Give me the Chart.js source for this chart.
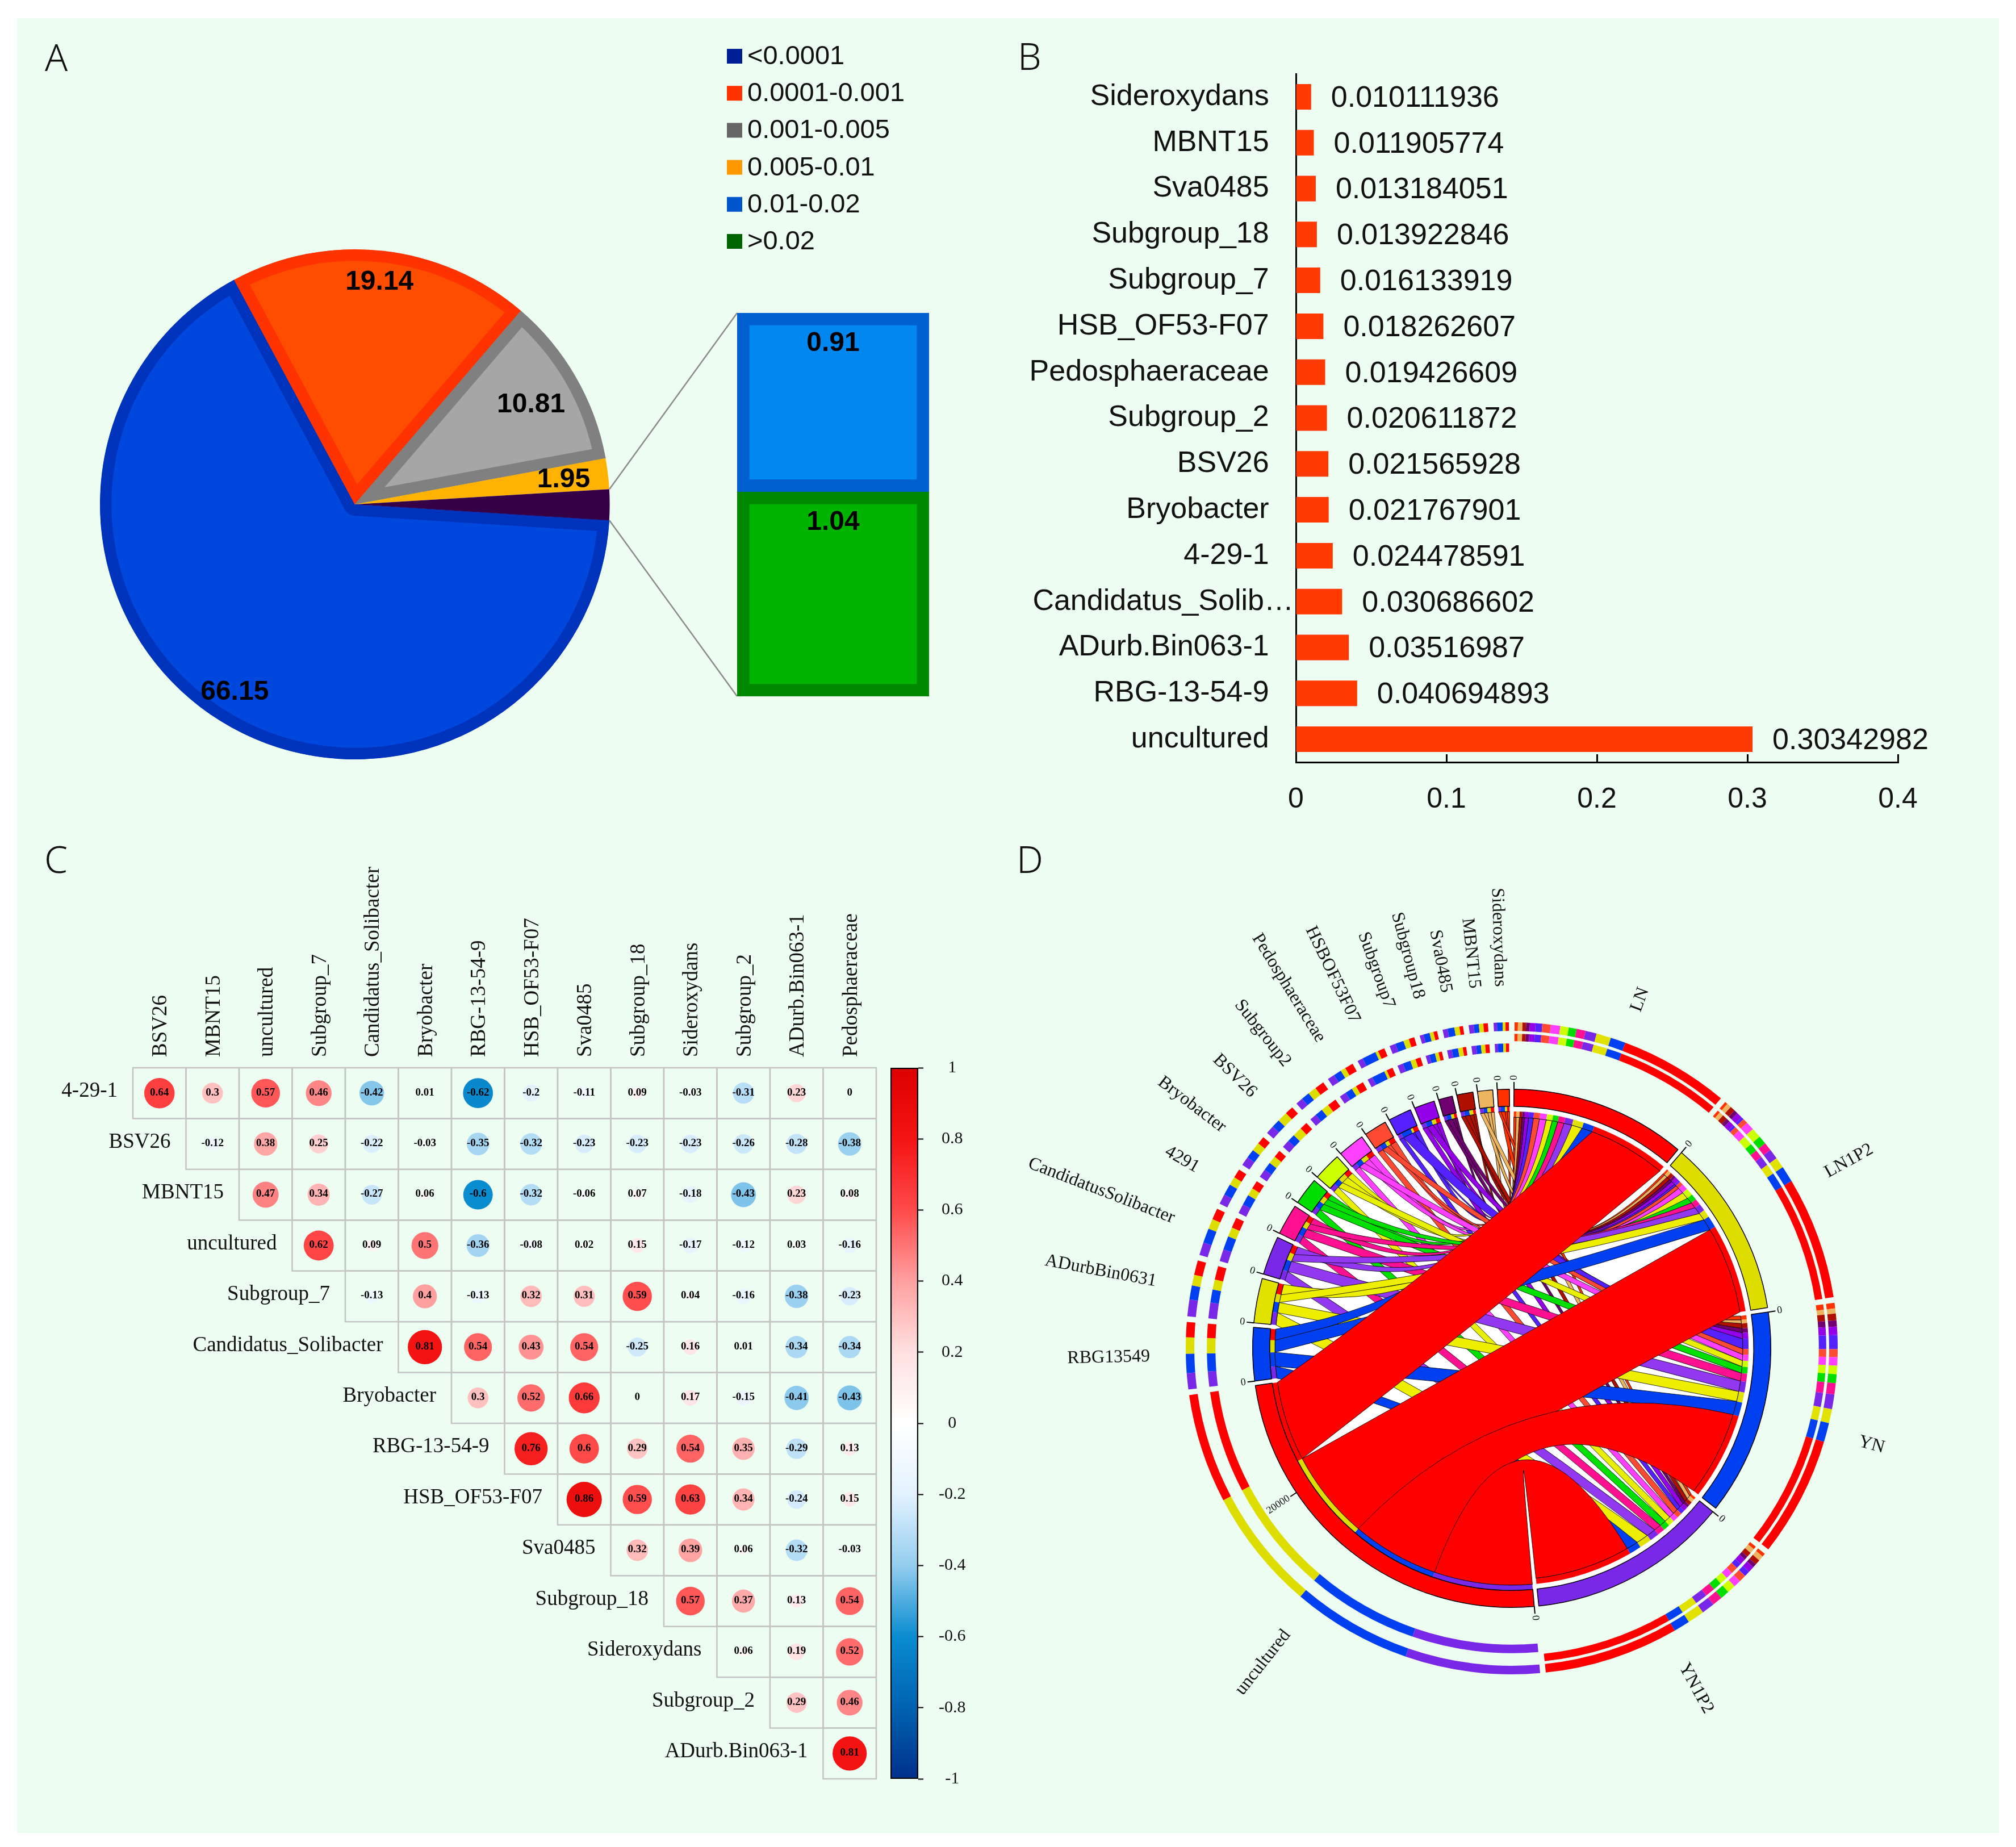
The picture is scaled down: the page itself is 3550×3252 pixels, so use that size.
<!DOCTYPE html>
<html><head><meta charset="utf-8">
<script src="https://cdn.jsdelivr.net/npm/chart.js@4"></script>
<style>
html,body{margin:0;padding:0;background:#fff;width:3550px;height:3252px;overflow:hidden}
#bg{position:absolute;left:30px;top:32px;width:3490px;height:3195px;background:#EEFDF2}
canvas{position:absolute}
.L{position:absolute;font:300 66px "Noto Sans",sans-serif;color:#111;line-height:66px}
</style></head><body>
<div id="bg"></div>
<canvas id="pie" width="1700" height="1400" style="left:0;top:0"></canvas>
<canvas id="stack" width="338" height="675" style="left:1298px;top:551px"></canvas>
<canvas id="bars" width="1700" height="1340" style="left:1780px;top:100px"></canvas>
<canvas id="corr" width="1544" height="1720" style="left:30px;top:1480px"></canvas>
<canvas id="cbar" width="170" height="1320" style="left:1560px;top:1850px"></canvas>
<canvas id="chord" width="1740" height="1740" style="left:1792px;top:1504px"></canvas>
<div class="L" style="left:79px;top:66px">A</div>
<div class="L" style="left:1792px;top:64px">B</div>
<div class="L" style="left:78px;top:1478px">C</div>
<div class="L" style="left:1790px;top:1478px">D</div>
<script>
/* ---------- data ---------- */
const pieLabels = ['0.0001 group','0.0001-0.001','0.001-0.005','0.005-0.01','other'];
const pieValues = [66.15, 19.14, 10.81, 1.95, 1.95];
const pieTexts  = ['66.15','19.14','10.81','1.95',''];
const stackValues = [1.04, 0.91];
const legendLabels = ['<0.0001','0.0001-0.001','0.001-0.005','0.005-0.01','0.01-0.02','>0.02'];
const legendColors = ['#001E96','#FF3300','#666666','#FF9900','#0055CC','#006400'];

const genusLabels = ['Sideroxydans','MBNT15','Sva0485','Subgroup_18','Subgroup_7','HSB_OF53-F07','Pedosphaeraceae','Subgroup_2','BSV26','Bryobacter','4-29-1','Candidatus_Solib…','ADurb.Bin063-1','RBG-13-54-9','uncultured'];
const genusValues = [0.010111936,0.011905774,0.013184051,0.013922846,0.016133919,0.018262607,0.019426609,0.020611872,0.021565928,0.021767901,0.024478591,0.030686602,0.03516987,0.040694893,0.30342982];

const corrCols = ['BSV26','MBNT15','uncultured','Subgroup_7','Candidatus_Solibacter','Bryobacter','RBG-13-54-9','HSB_OF53-F07','Sva0485','Subgroup_18','Sideroxydans','Subgroup_2','ADurb.Bin063-1','Pedosphaeraceae'];
const corrRows = ['4-29-1','BSV26','MBNT15','uncultured','Subgroup_7','Candidatus_Solibacter','Bryobacter','RBG-13-54-9','HSB_OF53-F07','Sva0485','Subgroup_18','Sideroxydans','Subgroup_2','ADurb.Bin063-1'];
const corr0  = [0.64,0.3,0.57,0.46,-0.42,0.01,-0.62,-0.2,-0.11,0.09,-0.03,-0.31,0.23,0];
const corr1  = [-0.12,0.38,0.25,-0.22,-0.03,-0.35,-0.32,-0.23,-0.23,-0.23,-0.26,-0.28,-0.38];
const corr2  = [0.47,0.34,-0.27,0.06,-0.6,-0.32,-0.06,0.07,-0.18,-0.43,0.23,0.08];
const corr3  = [0.62,0.09,0.5,-0.36,-0.08,0.02,0.15,-0.17,-0.12,0.03,-0.16];
const corr4  = [-0.13,0.4,-0.13,0.32,0.31,0.59,0.04,-0.16,-0.38,-0.23];
const corr5  = [0.81,0.54,0.43,0.54,-0.25,0.16,0.01,-0.34,-0.34];
const corr6  = [0.3,0.52,0.66,0,0.17,-0.15,-0.41,-0.43];
const corr7  = [0.76,0.6,0.29,0.54,0.35,-0.29,0.13];
const corr8  = [0.86,0.59,0.63,0.34,-0.24,0.15];
const corr9  = [0.32,0.39,0.06,-0.32,-0.03];
const corr10 = [0.57,0.37,0.13,0.54];
const corr11 = [0.06,0.19,0.52];
const corr12 = [0.29,0.46];
const corr13 = [0.81];

const sampleNames = ['LN','LN1P2','YN','YN1P2'];
const taxonNames = ['Sideroxydans','MBNT15','Sva0485','Subgroup18','Subgroup7','HSBOF53F07','Pedosphaeraceae','Subgroup2','BSV26','Bryobacter','4291','CandidatusSolibacter','ADurbBin0631','RBG13549','uncultured'];
const readsLN    = [196,262,213,213,327,392,491,556,491,458,523,654,850,883,6377];
const readsLN1P2 = [164,262,294,229,327,164,294,491,589,491,491,589,621,948,7129];
const readsYN    = [327,294,392,360,491,818,458,491,491,523,654,850,818,1112,6998];
const readsYN1P2 = [196,294,294,229,360,327,425,425,491,523,589,752,981,948,7848];
const sectorGapReads = 327;
const scaleTick = 20000;

/* ---------- styles ---------- */
const SANS='"Liberation Sans",Arial,sans-serif', SERIF='"Liberation Serif","Times New Roman",serif';
Chart.defaults.animation=false;
Chart.defaults.responsive=false;
Chart.defaults.devicePixelRatio=1;
Chart.defaults.plugins.legend.display=false;
Chart.defaults.plugins.tooltip.enabled=false;
Chart.defaults.events=[];
const noPadV=s=>{s.paddingTop=0;s.paddingBottom=0;};
const noPadH=s=>{s.paddingLeft=0;s.paddingRight=0;};

/* ---------- A: pie ---------- */
const pieFill=['#0047DD','#FF4D00','#A6A6A6','#FFB300','#360047'];
const pieEdge=['#0033BB','#FF3300','#808080','#FFB300','#360047'];
const pieEdgeW=[20,20,20,0,0];
const labelPolar=[[393,212.6],[394,6.3],[356,60.6],[370,83.3],[0,0]];
const stackBox={left:1298,top:551,bottom:1226};
new Chart(document.getElementById('pie'),{
  type:'pie',
  data:{labels:pieLabels,datasets:[{data:pieValues,backgroundColor:pieFill,borderColor:pieEdge,borderWidth:pieEdgeW,borderAlign:'inner'}]},
  options:{rotation:93.6,layout:{padding:{left:176,right:1700-1074,top:439,bottom:1400-1337}}},
  plugins:[{id:'pieExtras',afterDraw(c){
    const g=c.ctx,arcs=c.getDatasetMeta(0).data;
    const a0=arcs[0];
    g.save();
    g.fillStyle='#000';g.font='bold 48px '+SANS;g.textAlign='center';g.textBaseline='middle';
    pieTexts.forEach((t,i)=>{ if(!t)return; const [r,d]=labelPolar[i],th=d*Math.PI/180;
      g.fillText(t,a0.x+r*Math.sin(th),a0.y-r*Math.cos(th)); });
    const other=arcs[4];
    g.strokeStyle='#8a8a8a';g.lineWidth=2.5;
    const R=other.outerRadius;
    g.beginPath();g.moveTo(other.x+R*Math.cos(other.startAngle),other.y+R*Math.sin(other.startAngle));g.lineTo(stackBox.left,stackBox.top);g.stroke();
    g.beginPath();g.moveTo(other.x+R*Math.cos(other.endAngle),other.y+R*Math.sin(other.endAngle));g.lineTo(stackBox.left,stackBox.bottom);g.stroke();
    g.font='47px '+SANS;g.textAlign='left';
    legendLabels.forEach((t,i)=>{const y=99+i*65.2;
      g.fillStyle=legendColors[i];g.fillRect(1280,y-13,27,26);
      g.fillStyle='#111';g.fillText(t,1316,y+1);});
    g.restore();
  }}]
});
new Chart(document.getElementById('stack'),{
  type:'bar',
  data:{labels:['other'],datasets:[
    {data:[stackValues[0]],backgroundColor:'#00B400',borderColor:'#008800',borderWidth:22,borderSkipped:false,barPercentage:1,categoryPercentage:1},
    {data:[stackValues[1]],backgroundColor:'#0087F0',borderColor:'#0060D0',borderWidth:22,borderSkipped:false,barPercentage:1,categoryPercentage:1}]},
  options:{scales:{x:{display:false,stacked:true},y:{display:false,stacked:true,min:0,max:1.95}}},
  plugins:[{id:'stackLabels',afterDraw(c){
    const g=c.ctx;g.save();g.fillStyle='#000';g.font='bold 48px '+SANS;g.textAlign='center';g.textBaseline='middle';
    c.data.datasets.forEach((d,i)=>{const b=c.getDatasetMeta(i).data[0];g.fillText(d.data[0].toFixed(2),b.x,b.y+54);});
    g.restore();
  }}]
});

/* ---------- B: bars ---------- */
const truncIdx=genusLabels.findIndex(s=>s.endsWith('…'));
new Chart(document.getElementById('bars'),{
  type:'bar',
  data:{labels:genusLabels,datasets:[{data:genusValues,backgroundColor:'#FF3A00',barPercentage:0.75,categoryPercentage:0.743}]},
  options:{indexAxis:'y',
    layout:{padding:{left:0,right:138,top:30,bottom:0}},
    scales:{
      x:{min:0,max:0.4,ticks:{stepSize:0.1,color:'#111',font:{size:50,family:SANS},padding:50,callback:v=>String(+v.toFixed(1)),maxRotation:0},
         grid:{drawOnChartArea:false,drawTicks:true,tickLength:-14,tickColor:'#000',tickWidth:3},
         border:{display:true,color:'#000',width:3},afterFit(s){s.height=98;noPadH(s);}},
      y:{ticks:{autoSkip:false,color:'#111',font:{size:52,family:SANS},padding:4,
           callback(v,i){return genusLabels[i]+(i===truncIdx?'':'   ');}},
         grid:{display:false,drawTicks:false},border:{display:true,color:'#000',width:3},afterFit(s){s.width=502;noPadV(s);}}
    }},
  plugins:[{id:'valLabels',afterDatasetsDraw(c){
    const g=c.ctx;g.save();g.fillStyle='#111';g.font='52px '+SANS;g.textAlign='left';g.textBaseline='middle';
    c.getDatasetMeta(0).data.forEach((b,i)=>g.fillText(String(genusValues[i]),b.x+35,b.y+3));
    g.restore();
  }}]
});

/* ---------- C: correlation ---------- */
const corrMatrix=[corr0,corr1,corr2,corr3,corr4,corr5,corr6,corr7,corr8,corr9,corr10,corr11,corr12,corr13];
const corrPoints=[];
corrMatrix.forEach((row,r)=>row.forEach((v,k)=>corrPoints.push({x:corrCols[r+k],y:corrRows[r],v})));
const rampStops=[[-1,[0,48,140]],[-.8,[0,98,176]],[-.6,[10,140,208]],[-.4,[147,205,238]],[-.2,[227,242,255]],[0,[255,255,255]],[.2,[255,224,224]],[.4,[255,160,160]],[.6,[255,74,74]],[.8,[244,20,20]],[1,[221,0,0]]];
function ramp(v){for(let i=1;i<rampStops.length;i++){const[a,ca]=rampStops[i-1],[b,cb]=rampStops[i];
  if(v<=b){const t=(v-a)/(b-a);return `rgb(${ca.map((x,j)=>Math.round(x+(cb[j]-x)*t)).join(',')})`;}}return 'rgb(221,0,0)';}
new Chart(document.getElementById('corr'),{
  type:'bubble',
  data:{datasets:[{data:corrPoints,clip:false,borderWidth:0,
    backgroundColor:c=>ramp(c.raw.v),radius:c=>33.5*Math.sqrt(Math.abs(c.raw.v))}]},
  options:{
    layout:{padding:{left:204,right:16,top:0,bottom:68}},
    scales:{
      x:{type:'category',labels:corrCols,position:'top',offset:true,
         ticks:{autoSkip:false,minRotation:90,maxRotation:90,color:'#111',font:{size:37,family:SERIF},padding:19,labelOffset:47},
         grid:{display:false,drawTicks:false},border:{display:false},afterFit(s){s.height=400;noPadH(s);}},
      y:{type:'category',labels:corrRows,offset:true,display:false}
    }},
  plugins:[{id:'corrCells',
    beforeDatasetsDraw(c){
      const g=c.ctx,X=c.scales.x,Y=c.scales.y;
      const w=X.width/corrCols.length,h=Y.height/corrRows.length;
      g.save();g.strokeStyle='#C4C4C4';g.lineWidth=2.5;
      corrPoints.forEach(p=>{g.strokeRect(X.getPixelForValue(corrCols.indexOf(p.x))-w/2,Y.getPixelForValue(corrRows.indexOf(p.y))-h/2,w,h);});
      g.restore();
    },
    afterDatasetsDraw(c){
      const g=c.ctx,X=c.scales.x,Y=c.scales.y;
      const w=X.width/corrCols.length;
      g.save();g.fillStyle='#000';g.textAlign='center';g.textBaseline='middle';g.font='bold 19px '+SERIF;
      corrPoints.forEach(p=>{g.fillText(String(p.v),X.getPixelForValue(corrCols.indexOf(p.x)),Y.getPixelForValue(corrRows.indexOf(p.y))-1);});
      g.font='37px '+SERIF;g.fillStyle='#111';g.textAlign='right';
      corrRows.forEach((t,r)=>g.fillText(t,X.getPixelForValue(r)-w/2-27,Y.getPixelForValue(r)-3));
      g.restore();
    }}]
});
new Chart(document.getElementById('cbar'),{
  type:'bar',
  data:{labels:['r'],datasets:[{data:[[-1,1]],barPercentage:1,categoryPercentage:1,borderColor:'#000',borderWidth:2.5,borderSkipped:false,
    backgroundColor(c){const a=c.chart.chartArea;if(!a)return '#fff';
      const gr=c.chart.ctx.createLinearGradient(0,a.bottom,0,a.top);
      rampStops.forEach(([v,col])=>gr.addColorStop((v+1)/2,`rgb(${col.join(',')})`));return gr;}}]},
  options:{layout:{padding:{left:8,right:0,top:30,bottom:38}},
    scales:{x:{display:false},
      y:{position:'right',min:-1,max:1,
        ticks:{stepSize:0.2,color:'#111',font:{size:30,family:SERIF},padding:27,crossAlign:'center',callback:v=>String(+v.toFixed(1))},
        grid:{drawOnChartArea:false,tickLength:9,tickColor:'#000',tickWidth:2},border:{display:false},afterFit(s){s.width=113;noPadV(s);}}}}
});

/* ---------- D: chord ---------- */
const sampleColors=['#FF0000','#DDDD00','#0040F0','#7A28E8'];
const taxonColors=['#FF3300','#EDB55F','#B01000','#700070','#9400E8','#5522FF','#FF4A33','#FF40FF','#CCFF00','#00DD00','#FF1090','#7A28E8','#E2E200','#0040F0','#FF0000'];
const ribbonColors=['#FF3300','#EDB55F','#B01000','#700070','#9400E8','#5522FF','#FF4A33','#FF40FF','#E8F000','#00E000','#FF1090','#9238F0','#EEEE00','#0040F0','#FF0000'];
const reads=[readsLN,readsLN1P2,readsYN,readsYN1P2];
const sum=a=>a.reduce((x,y)=>x+y,0);
const T=taxonNames.length,S=sampleNames.length;
const sumTaxon=j=>sum(reads.map(r=>r[j]));
const segVals=[],segCols=[],segSample=[],segTaxon=[],segIsSample=[];
const secVals=[],secCols=[],secEdge=[],secEdgeW=[],secNames=[];
const transparent='rgba(0,0,0,0)';
function pushGap(){segVals.push(sectorGapReads);segCols.push(transparent);segSample.push(-1);segTaxon.push(-1);segIsSample.push(null);
  secVals.push(sectorGapReads);secCols.push(transparent);secEdge.push(transparent);secEdgeW.push(0);secNames.push('');}
for(let s=0;s<S;s++){
  for(let j=0;j<T;j++){segVals.push(reads[s][j]);segCols.push(taxonColors[j]);segSample.push(s);segTaxon.push(j);segIsSample.push(true);}
  secVals.push(sum(reads[s]));secCols.push(sampleColors[s]);secEdge.push('#000');secEdgeW.push(1.5);secNames.push(sampleNames[s]);
  pushGap();
}
for(let j=T-1;j>=0;j--){
  for(let s=S-1;s>=0;s--){segVals.push(reads[s][j]);segCols.push(sampleColors[s]);segSample.push(s);segTaxon.push(j);segIsSample.push(false);}
  secVals.push(sumTaxon(j));secCols.push(taxonColors[j]);secEdge.push('#000');secEdgeW.push(1.5);secNames.push(taxonNames[j]);
  pushGap();
}
const sampleOnly=segCols.map((c,i)=>segIsSample[i]===true?c:transparent);
const taxonOnly=segCols.map((c,i)=>segIsSample[i]===false?c:transparent);
const filler=w=>({data:[1],backgroundColor:[transparent],borderWidth:0,weight:w});
const ring=(cols,w)=>({data:segVals,backgroundColor:cols,borderWidth:0,weight:w});
const BAND_TAXON=7,BAND_SAMPLE=8,SEC=6;
const angleBetween=(p,q,cx,cy)=>{const ax=p[0]-cx,ay=p[1]-cy,bx=q[0]-cx,by=q[1]-cy;
  return Math.acos(Math.max(-1,Math.min(1,(ax*bx+ay*by)/(Math.hypot(ax,ay)*Math.hypot(bx,by)))))*180/Math.PI;};
function ribbonCtl(p0,p2,cx,cy,meanDelta,widthDeg){
  const mx=(p0[0]+p2[0])/2-cx,my=(p0[1]+p2[1])/2-cy,m=Math.hypot(mx,my);
  if(m<1e-3)return [cx,cy];
  const base=60-40*Math.min(1,widthDeg/10);
  const t=Math.max(0,Math.min(1,(meanDelta-90)/47));
  const rc=base+t*(0.9*m-base);
  return [cx+mx/m*rc,cy+my/m*rc];
}
new Chart(document.getElementById('chord'),{
  type:'doughnut',
  data:{labels:segVals.map((_,i)=>String(i)),datasets:[
    ring(segCols,15),filler(5),ring(sampleOnly,13),filler(4),ring(taxonOnly,15),filler(65),
    {data:secVals,backgroundColor:secCols,borderColor:secEdge,borderWidth:secEdgeW,weight:30},
    ring(taxonOnly,9),ring(sampleOnly,10)]},
  options:{rotation:0.5,cutout:407,layout:{padding:296}},
  plugins:[{id:'chordRibbons',
    beforeDatasetsDraw(c){
      const g=c.ctx,bandS=c.getDatasetMeta(BAND_SAMPLE).data,bandT=c.getDatasetMeta(BAND_TAXON).data,el0=bandS[0];
      const cx=el0.x,cy=el0.y,Rs=el0.innerRadius,Rt=el0.outerRadius;
      g.save();
      g.fillStyle='#fff';g.beginPath();g.arc(cx,cy,458,0,Math.PI*2);g.fill();
      g.lineWidth=0.8;g.strokeStyle='#000';
      const idx=(j,s,isS)=>segVals.findIndex((_,k)=>segTaxon[k]===j&&segSample[k]===s&&segIsSample[k]===isS);
      for(let j=0;j<T;j++){
        for(let s=0;s<S;s++){
          const a=bandS[idx(j,s,true)],b=bandT[idx(j,s,false)];
          const pt=(t,R)=>[cx+R*Math.cos(t),cy+R*Math.sin(t)];
          const ae=pt(a.endAngle,Rs),bs=pt(b.startAngle,Rt),be=pt(b.endAngle,Rt),as=pt(a.startAngle,Rs);
          const dm=(angleBetween(ae,bs,cx,cy)+angleBetween(be,as,cx,cy))/2;
          const wd=(a.endAngle-a.startAngle)*180/Math.PI;
          const c1=ribbonCtl(ae,bs,cx,cy,dm,wd),c2=ribbonCtl(be,as,cx,cy,dm,wd);
          g.beginPath();
          g.arc(cx,cy,Rs,a.startAngle,a.endAngle);
          g.quadraticCurveTo(c1[0],c1[1],bs[0],bs[1]);
          g.arc(cx,cy,Rt,b.startAngle,b.endAngle);
          g.quadraticCurveTo(c2[0],c2[1],as[0],as[1]);
          g.closePath();
          g.fillStyle=ribbonColors[j];g.fill();g.stroke();
        }
      }
      g.restore();
    },
    afterDatasetsDraw(c){
      const g=c.ctx,secs=c.getDatasetMeta(SEC).data,band=c.getDatasetMeta(BAND_SAMPLE).data[0];
      const cx=band.x,cy=band.y;
      g.save();
      const radial=(ang,r,txt,font)=>{
        const px=cx+r*Math.cos(ang),py=cy+r*Math.sin(ang);
        const left=Math.cos(ang)<0;
        g.save();g.translate(px,py);g.rotate(left?ang+Math.PI:ang);
        g.font=font;g.fillStyle='#111';g.textAlign=left?'right':'left';g.textBaseline='middle';
        g.fillText(txt,0,0);g.restore();
      };
      const tick=(ang,txt)=>{
        g.strokeStyle='#000';g.lineWidth=2;g.beginPath();
        g.moveTo(cx+456*Math.cos(ang),cy+456*Math.sin(ang));g.lineTo(cx+469*Math.cos(ang),cy+469*Math.sin(ang));g.stroke();
        radial(ang,472,txt,'18px '+SERIF);
      };
      secs.forEach((el,i)=>{
        if(!secNames[i])return;
        const isSample=i<8;
        g.strokeStyle='#000';g.lineWidth=0.8;
        g.beginPath();g.arc(cx,cy,isSample?407:417,el.startAngle,el.endAngle);g.stroke();
        tick(el.startAngle,'0');
        if(secVals[i]>scaleTick){
          tick(el.startAngle+(el.endAngle-el.startAngle)*scaleTick/secVals[i],String(scaleTick));
        }
        radial((el.startAngle+el.endAngle)/2,isSample?633:637,secNames[i],'32px '+SERIF);
      });
      g.restore();
    }}]
});
</script>
</body></html>
